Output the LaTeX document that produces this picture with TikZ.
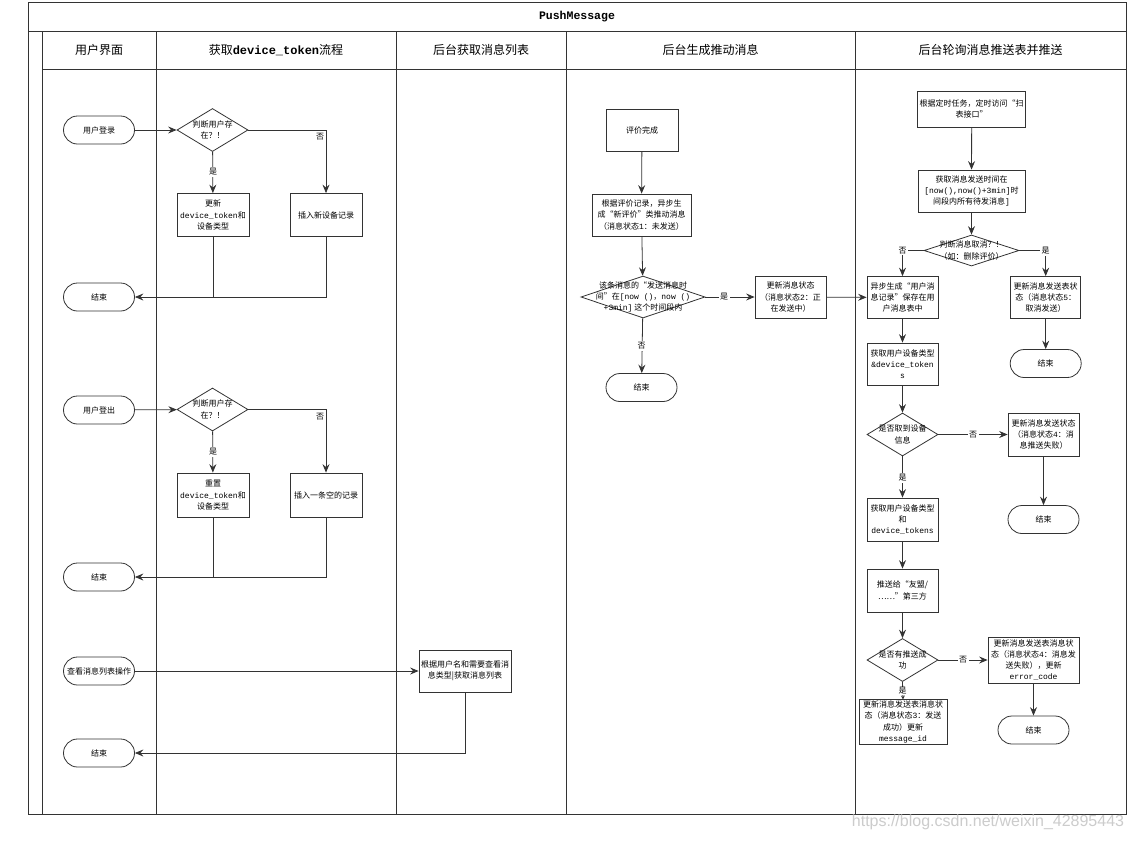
\documentclass[tikz,border=0pt]{standalone}
\usepackage{fontspec}
\setmainfont{Noto Sans CJK SC}
\setmonofont{Liberation Mono}
\newfontfamily\wmfont{Liberation Sans}
\usetikzlibrary{shapes.geometric,arrows.meta}
\definecolor{ln}{HTML}{333333}
\newcommand{\mono}[1]{{\ttfamily #1}}
\begin{document}
\begin{tikzpicture}[x=1pt,y=-1pt,
  txt/.style={font=\fontsize{8}{11.3}\selectfont, align=center, text=black},
  box/.style={draw=ln, line width=0.8pt, fill=white, rectangle, inner sep=1pt, txt, minimum width=71pt, minimum height=42pt},
  term/.style={draw=ln, line width=0.8pt, fill=white, rectangle, rounded corners=14pt, minimum width=71pt, minimum height=28pt, inner sep=1pt, txt},
  dia/.style={draw=ln, line width=0.8pt, fill=white, diamond, inner sep=0pt, minimum width=71pt, minimum height=43pt},
  dtxt/.style={font=\fontsize{8}{11.3}\selectfont, align=center, text=black, inner sep=0pt},
  lbl/.style={fill=white, inner sep=1.5pt, txt},
  arr/.style={draw=ln, line width=0.8pt, -{Stealth[length=8.5pt,width=7pt,inset=3pt]}},
  conn/.style={draw=ln, line width=0.8pt},
  frame/.style={draw=ln, line width=0.9pt},
  head/.style={font=\fontsize{12}{14}\selectfont, text=black}
]
\useasboundingbox (0,0) rectangle (1133,841);
\fill[white] (0,0) rectangle (1133,841);

% ---------- frame and lanes ----------
\draw[frame] (28,2) rectangle (1126,814);
\draw[frame] (28,31) -- (1126,31);
\draw[frame] (42,31) -- (42,814);
\draw[frame] (42,69) -- (1126,69);
\foreach \xx in {156,396,566,855} \draw[frame] (\xx,31) -- (\xx,814);

\node[font=\fontsize{11.5}{13}\selectfont\ttfamily\bfseries] (title) at (577,17) {PushMessage};
\node[head] (h1) at (99,50) {用户界面};
\node[head] (h2) at (276,50) {获取{\ttfamily\bfseries device\_token}流程};
\node[head] (h3) at (481,50) {后台获取消息列表};
\node[head] (h4) at (710.5,50) {后台生成推动消息};
\node[head] (h5) at (990.5,50) {后台轮询消息推送表并推送};

% ---------- lane 1 / 2: login ----------
\node[term] (login) at (99,130) {用户登录};
\node[dia, label={[dtxt]center:判断用户存\\在？！}] (d1) at (212.5,130) {};
\node[box, minimum width=72pt, minimum height=43pt] (upd1) at (213,215) {更新\\\mono{device\_token}和\\设备类型};
\node[box, minimum width=72pt, minimum height=43pt] (ins1) at (326,215) {插入新设备记录};
\node[term] (end1) at (99,297) {结束};

\draw[arr] (login) -- (d1);
\draw[arr] (d1) -- (upd1);
\draw[arr] (d1.east) -| (ins1.north);
\draw[conn] (upd1.south) -- (upd1.south |- end1.east);
\draw[arr] (ins1.south) |- (end1.east);
\node[lbl] (l1n) at (320,137) {否};
\node[lbl] (l1y) at (213,172) {是};

% ---------- logout ----------
\node[term] (logout) at (99,410) {用户登出};
\node[dia, label={[dtxt]center:判断用户存\\在？！}] (d2) at (212.5,409.5) {};
\node[box, minimum width=72pt, minimum height=44pt] (rst) at (213,495) {重置\\\mono{device\_token}和\\设备类型};
\node[box, minimum width=72pt, minimum height=44pt] (ins2) at (326,495) {插入一条空的记录};
\node[term] (end2) at (99,577) {结束};

\draw[arr] (logout) -- (d2);
\draw[arr] (d2) -- (rst);
\draw[arr] (d2.east) -| (ins2.north);
\draw[conn] (rst.south) -- (rst.south |- end2.east);
\draw[arr] (ins2.south) |- (end2.east);
\node[lbl] (l2n) at (320,417) {否};
\node[lbl] (l2y) at (213,452) {是};

% ---------- message list ----------
\node[term] (view) at (99,671) {查看消息列表操作};
\node[box, minimum width=92pt] (list) at (465,671) {根据用户名和需要查看消\\息类型|获取消息列表};
\node[term] (end3) at (99,753) {结束};
\draw[arr] (view) -- (list);
\draw[arr] (list.south) |- (end3.east);

% ---------- generate push message ----------
\node[box, minimum width=72pt] (eval) at (642,130) {评价完成};
\node[box, minimum width=99pt] (gen) at (641.5,215) {根据评价记录，异步生\\成“新评价”类推动消息\\（消息状态\mono{1}：未发送）};
\node[dia, minimum width=124pt, minimum height=42pt, label={[dtxt]center:该条消息的“发送消息时\\间”在\mono{[now ()}，\mono{now ()}\\\mono{+3min]} 这个时间段内}] (d3) at (643,297) {};
\node[box] (upd2) at (790.5,297) {更新消息状态\\（消息状态\mono{2}：正\\在发送中）};
\node[term] (end4) at (641.5,387.5) {结束};

\draw[arr] (eval) -- (gen);
\draw[arr] (gen) -- (d3);
\draw[arr] (d3) -- (upd2);
\draw[arr] (d3) -- (end4);
\node[lbl] (l3y) at (724,297) {是};
\node[lbl] (l3n) at (641.5,346) {否};

% ---------- polling & push ----------
\node[box, minimum width=108pt, minimum height=36pt] (timer) at (971.7,109) {根据定时任务，定时访问“扫\\表接口”};
\node[box, minimum width=107pt] (fetch) at (971.5,191) {获取消息发送时间在\\\mono{[now(),now()+3min]}时\\间段内所有待发消息\mono{]}};
\node[dia, minimum width=95pt, minimum height=31pt, label={[dtxt]center:判断消息取消？！\\（如：删除评价）}] (d4) at (971.5,250.5) {};
\node[box] (async) at (902.5,297.5) {异步生成“用户消\\息记录”保存在用\\户消息表中};
\node[box, minimum width=70pt] (cancel) at (1045.7,297.5) {更新消息发送表状\\态（消息状态\mono{5}：\\取消发送）};
\node[term] (end5) at (1045.7,363.5) {结束};
\node[box] (getdev) at (902.5,364) {获取用户设备类型\\\mono{\&device\_token}\\\mono{s}};
\node[dia, label={[dtxt]center:是否取到设备\\信息}] (d5) at (902.5,434.5) {};
\node[box, minimum height=43pt] (fail4) at (1043.5,434.5) {更新消息发送状态\\（消息状态\mono{4}：消\\息推送失败）};
\node[term] (end6) at (1043.5,519.5) {结束};
\node[box, minimum height=43pt] (getdev2) at (902.5,519.5) {获取用户设备类型\\和\\\mono{device\_tokens}};
\node[box, minimum height=43pt] (push) at (902.5,590.5) {推送给“友盟/\\……”第三方};
\node[dia, label={[dtxt]center:是否有推送成\\功}] (d6) at (902.5,660) {};
\node[box, minimum width=91pt, minimum height=46pt] (err) at (1033.5,660) {更新消息发送表消息状\\态（消息状态\mono{4}：消息发\\送失败），更新\\\mono{error\_code}};
\node[term] (end7) at (1033.5,730) {结束};
\node[box, minimum width=88pt, minimum height=40pt] (succ) at (903,722) {更新消息发送表消息状\\态（消息状态\mono{3}：发送\\成功）更新\\\mono{message\_id}};

\draw[arr] (upd2) -- (async);
\draw[arr] (timer) -- (fetch);
\draw[arr] (fetch) -- (d4);
\draw[arr] (d4.west) -| (async.north);
\draw[arr] (d4.east) -| (cancel.north);
\node[lbl] (l4n) at (async.north |- d4.west) {否};
\node[lbl] (l4y) at (cancel.north |- d4.east) {是};
\draw[arr] (cancel) -- (end5);
\draw[arr] (async) -- (getdev);
\draw[arr] (getdev) -- (d5);
\draw[arr] (d5) -- (fail4);
\node[lbl] (l5n) at (973,434.5) {否};
\draw[arr] (fail4) -- (end6);
\draw[arr] (d5) -- (getdev2);
\node[lbl] (l5y) at (902.5,478) {是};
\draw[arr] (getdev2) -- (push);
\draw[arr] (push) -- (d6);
\draw[arr] (d6) -- (err);
\node[lbl] (l6n) at (963,660) {否};
\draw[arr] (err) -- (end7);
\draw[draw=ln, line width=0.8pt, -{Stealth[length=4pt,width=4pt,inset=1.5pt]}] (d6.south) -- (succ.north);
\node[lbl, inner sep=0.5pt] (l6y) at (902.5,691) {是};

% ---------- watermark ----------
\node[font=\wmfont\fontsize{16}{18}\selectfont, text=black!20] (wm) at (988,822) {https://blog.csdn.net/weixin\_42895443};
\end{tikzpicture}
\end{document}
